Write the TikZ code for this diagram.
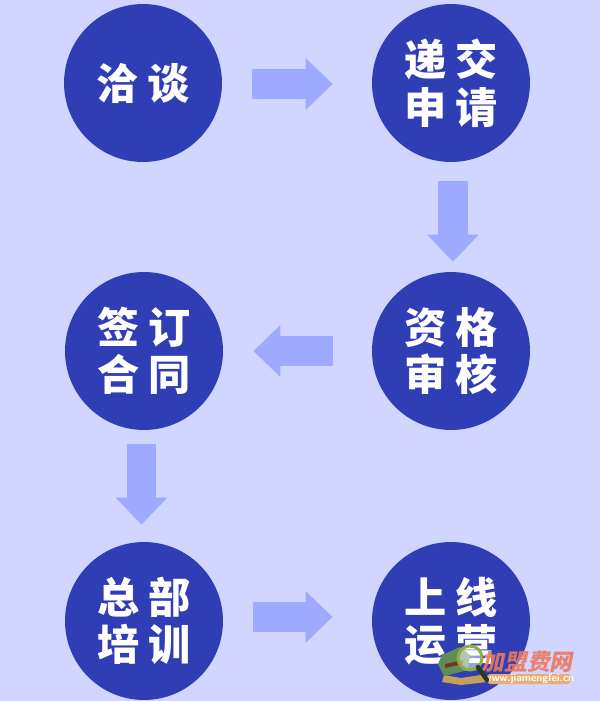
\documentclass[tikz,border=0pt]{standalone}
\usepackage{fontspec}
\usepackage{tikz}
\usetikzlibrary{arrows.meta}
\newfontfamily\cjk{Noto Sans CJK SC}[BoldFont={Noto Sans CJK SC Black}]
\newfontfamily\cjkslant{Noto Sans CJK SC Black}[FakeSlant=0.2]
\definecolor{pagebg}{RGB}{208,214,255}
\definecolor{stepblue}{RGB}{48,62,181}
\definecolor{flowblue}{RGB}{158,170,255}
\definecolor{markred}{RGB}{235,120,95}
\definecolor{markband}{RGB}{238,170,115}
\definecolor{bookgreen}{RGB}{96,140,90}
\definecolor{booktan}{RGB}{196,160,90}
\tikzset{
  stepnode/.style={circle,fill=stepblue,minimum size=3.16cm,inner sep=0pt,text=white,
    align=center,font=\cjk\bfseries\fontsize{24}{27}\selectfont},
  flowarrow/.style={draw=flowblue,line width=0.6cm,
    -{Triangle[width=1cm,length=0.54cm,fill=flowblue]}}
}
\begin{document}
\begin{tikzpicture}[x=0.02cm,y=-0.02cm]
\fill [pagebg] (0,0) rectangle (600,701);
\useasboundingbox (0,0) rectangle (600,701);

\node [stepnode] (talk) at (143,83) {洽 谈};
\node [stepnode] (apply) at (451,83) {递 交\\申 请};
\node [stepnode] (review) at (451,351) {资 格\\审 核};
\node [stepnode] (sign) at (144,351) {签 订\\合 同};
\node [stepnode] (train) at (144,621) {总 部\\培 训};
\node [stepnode] (launch) at (451,621) {上 线\\运 营};

\draw [flowarrow] ([xshift=0.6cm,yshift=-0.02cm]talk.east) -- ([xshift=-0.78cm,yshift=-0.02cm]apply.west);
\draw [flowarrow] ([xshift=0.04cm,yshift=-0.38cm]apply.south) -- ([xshift=0.04cm,yshift=0.2cm]review.north);
\draw [flowarrow] ([xshift=-0.78cm]review.west) -- ([xshift=0.6cm]sign.east);
\draw [flowarrow] ([xshift=-0.05cm,yshift=-0.28cm]sign.south) -- ([xshift=-0.05cm,yshift=0.34cm]train.north);
\draw [flowarrow] ([xshift=0.6cm,yshift=0.08cm]train.east) -- ([xshift=-0.78cm,yshift=0.08cm]launch.west);

% watermark
\fill [markband,rounded corners=2pt] (487,674) rectangle (571,684);
\node [markred,opacity=0.9,font=\cjkslant\fontsize{13}{14}\selectfont,inner sep=0pt] (markname) at (527,662) {加盟费网};
\node [white,font=\sffamily\bfseries\fontsize{6}{7}\selectfont,inner sep=0pt] (markurl) at (529,679) {www.jiamengfei.cn};
\fill [booktan] (444,675) -- (461,678) -- (481,675) -- (487,682) -- (461,685) -- (442,682) -- cycle;
\fill [bookgreen] (442,655) -- (460,647) -- (470,655) -- (468,670) -- (444,676) -- (438,664) -- cycle;
\fill [red!50!black,opacity=0.6] (445,664) -- (463,660) -- (463,664) -- (445,668) -- cycle;
\fill [white,opacity=0.5] (470,658) circle (12);
\draw [bookgreen!70!yellow,line width=0.06cm] (470,658) circle (12);
\draw [black!60!bookgreen,line width=0.09cm,line cap=round] (478,667) -- (487,680);
\end{tikzpicture}
\end{document}
